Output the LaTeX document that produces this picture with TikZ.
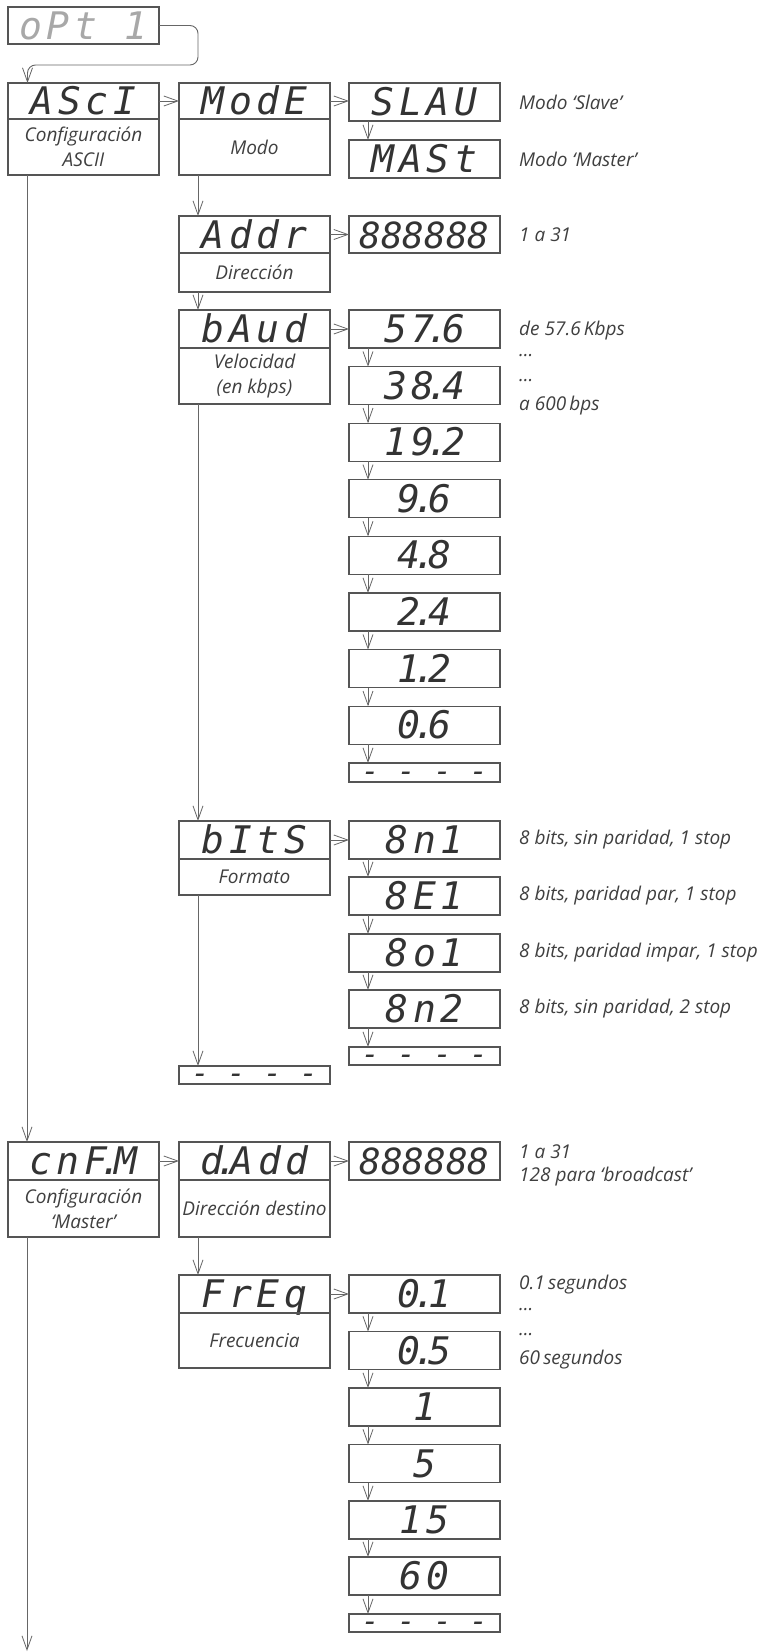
\documentclass[tikz,border=0pt]{standalone}
\usepackage{fontspec}
\setmainfont{Open Sans}
\newfontfamily\segf{DejaVu Sans Mono}
\newfontfamily\segw{DejaVu Sans Mono}[LetterSpace=12]
\newcommand\sdot{\kern-.2em.\kern-.2em}
\usetikzlibrary{arrows.meta}
\definecolor{boxc}{HTML}{555555}
\definecolor{linec}{HTML}{666666}
\definecolor{txtc}{HTML}{3F3F3F}
\definecolor{segc}{HTML}{333333}
\definecolor{segl}{HTML}{A8A8A8}
\tikzset{
  box/.style={draw=boxc, line width=1.2pt, minimum width=151pt, inner sep=0pt, outer sep=0pt},
  hdr/.style={box, minimum height=37pt, text height=27pt, text depth=0pt, text=segc,
    font=\segw\itshape\fontsize{38}{38}\selectfont},
  val/.style={hdr},
  num/.style={box, minimum height=37pt, text height=27pt, text depth=0pt, text=segc,
    font=\segf\itshape\fontsize{36}{36}\selectfont},
  dashbox/.style={box, minimum height=19pt},
  dashtxt/.style={anchor=base, inner sep=0pt, text=segc, font=\segf\itshape\fontsize{30}{30}\selectfont},
  low/.style={box, align=center, text=txtc, font=\itshape\fontsize{19}{25}\selectfont},
  lab/.style={anchor=west, inner sep=0pt, text=txtc, font=\itshape\fontsize{19}{24}\selectfont},
  arr/.style={draw=linec, line width=0.9pt, -{Straight Barb[length=14pt,width=10pt,line width=0.8pt]}},
}
\begin{document}
\begin{tikzpicture}[x=1pt,y=-1pt]
\useasboundingbox (0,0) rectangle (761,1652);
% ---- top ----
\node[hdr, text=segl, minimum height=37pt] (opt) at (83.5,25.5) {oPt 1};
\node[hdr, minimum height=36pt] (asci) at (83.5,101) {AScI};
\node[low, minimum height=56pt] (asciL) at (83.5,147) {Configuración\\ASCII};
\node[hdr, minimum height=36pt] (mode) at (254.5,101) {ModE};
\node[low, minimum height=56pt] (modeL) at (254.5,147) {Modo};
\node[val, minimum height=38pt] (slau) at (424.5,102) {SLAU};
\node[val, minimum height=38pt] (mast) at (424.5,159) {MASt};
\node[lab] (lslau) at (519,102) {Modo ‘Slave’};
\node[lab] (lmast) at (519,159) {Modo ‘Master’};
% ---- address ----
\node[hdr] (addr) at (254.5,234.5) {Addr};
\node[low, minimum height=39pt] (addrL) at (254.5,272.5) {Dirección};
\node[num] (addrv) at (424.5,234.5) {888888};
\node[lab] (laddr) at (519,235) {1 a 31};
% ---- baud ----
\node[hdr, minimum height=38pt] (baud) at (254.5,329) {bAud};
\node[low, minimum height=56pt] (baudL) at (254.5,376) {Velocidad\\(en kbps)};
\node[val, minimum height=38pt] (b1) at (424.5,329) {57\sdot6};
\node[val, minimum height=38pt] (b2) at (424.5,385.6) {38\sdot4};
\node[val, minimum height=38pt] (b3) at (424.5,442.2) {19\sdot2};
\node[val, minimum height=38pt] (b4) at (424.5,498.8) {9\sdot6};
\node[val, minimum height=38pt] (b5) at (424.5,555.4) {4\sdot8};
\node[val, minimum height=38pt] (b6) at (424.5,612) {2\sdot4};
\node[val, minimum height=38pt] (b7) at (424.5,668.6) {1\sdot2};
\node[val, minimum height=38pt] (b8) at (424.5,725.2) {0\sdot6};
\node[dashbox] (b9) at (424.5,772.5) {};
\node[dashtxt] (b9t) at (424.5,781) {- - - -};
\node[lab] (lb1) at (519,331) {de 57.6\,Kbps};
\node[lab] (lb2) at (519,356) {...};
\node[lab] (lb3) at (519,381) {...};
\node[lab] (lb4) at (519,406) {a 600\,bps};
% ---- bits ----
\node[hdr, minimum height=38pt] (bits) at (254.5,840) {bItS};
\node[low, minimum height=36pt] (bitsL) at (254.5,877) {Formato};
\node[val, minimum height=38pt] (f1) at (424.5,840) {8n1};
\node[val, minimum height=38pt] (f2) at (424.5,896) {8E1};
\node[val, minimum height=38pt] (f3) at (424.5,953) {8o1};
\node[val, minimum height=38pt] (f4) at (424.5,1009) {8n2};
\node[dashbox, minimum height=18pt] (f5) at (424.5,1056) {};
\node[dashtxt] (f5t) at (424.5,1064.5) {- - - -};
\node[dashbox, minimum height=18pt] (bitsd) at (254.5,1075) {};
\node[dashtxt] (bitsdt) at (254.5,1083.5) {- - - -};
\node[lab] (lf1) at (519,840) {8 bits, sin paridad, 1 stop};
\node[lab] (lf2) at (519,896) {8 bits, paridad par, 1 stop};
\node[lab] (lf3) at (519,953) {8 bits, paridad impar, 1 stop};
\node[lab] (lf4) at (519,1009) {8 bits, sin paridad, 2 stop};
% ---- master ----
\node[hdr, minimum height=38pt] (cnfm) at (83.5,1161) {cnF\sdot M};
\node[low, minimum height=57pt] (cnfmL) at (83.5,1208.5) {Configuración\\‘Master’};
\node[hdr, minimum height=38pt] (dadd) at (254.5,1161) {d\sdot Add};
\node[low, minimum height=57pt] (daddL) at (254.5,1208.5) {Dirección destino};
\node[num, minimum height=38pt] (daddv) at (424.5,1161) {888888};
\node[lab] (ld1) at (519,1152) {1 a 31};
\node[lab] (ld2) at (519,1177) {128 para ‘broadcast’};
% ---- frequency ----
\node[hdr, minimum height=38pt] (freq) at (254.5,1294) {FrEq};
\node[low, minimum height=55pt] (freqL) at (254.5,1340.5) {Frecuencia};
\node[val, minimum height=38pt] (q1) at (424.5,1294) {0\sdot1};
\node[val, minimum height=38pt] (q2) at (424.5,1350.5) {0\sdot5};
\node[val, minimum height=38pt] (q3) at (424.5,1407) {1};
\node[val, minimum height=38pt] (q4) at (424.5,1463.5) {5};
\node[val, minimum height=38pt] (q5) at (424.5,1520) {15};
\node[val, minimum height=38pt] (q6) at (424.5,1576) {60};
\node[dashbox, minimum height=18pt] (q7) at (424.5,1623) {};
\node[dashtxt] (q7t) at (424.5,1631.5) {- - - -};
\node[lab] (lq1) at (519,1285) {0.1\,segundos};
\node[lab] (lq2) at (519,1310) {...};
\node[lab] (lq3) at (519,1335) {...};
\node[lab] (lq4) at (519,1360) {60\,segundos};
% ---- connectors ----
\coordinate (c1) at (198,65);
\draw[arr, rounded corners=8pt] (opt.east) -| (c1) -| ([xshift=19.5pt]asci.north west);
\draw[arr] (asci.east) -- (mode.west);
\draw[arr] (mode.east) -- (mode.east -| slau.west);
\draw[arr] ([xshift=19pt]slau.south west) -- ([xshift=19pt]mast.north west);
\draw[arr] ([xshift=19pt]modeL.south west) -- ([xshift=19pt]addr.north west);
\draw[arr] (addr.east) -- (addrv.west);
\draw[arr] ([xshift=19pt]addrL.south west) -- ([xshift=19pt]baud.north west);
\draw[arr] (baud.east) -- (b1.west);
\foreach \a/\b in {b1/b2,b2/b3,b3/b4,b4/b5,b5/b6,b6/b7,b7/b8,b8/b9,f1/f2,f2/f3,f3/f4,f4/f5,q1/q2,q2/q3,q3/q4,q4/q5,q5/q6,q6/q7}
  \draw[arr] ([xshift=19pt]\a.south west) -- ([xshift=19pt]\b.north west);
\draw[arr] ([xshift=19pt]baudL.south west) -- ([xshift=19pt]bits.north west);
\draw[arr] (bits.east) -- (f1.west);
\draw[arr] ([xshift=19pt]bitsL.south west) -- ([xshift=19pt]bitsd.north west);
\draw[arr] ([xshift=19pt]asciL.south west) -- ([xshift=19pt]cnfm.north west);
\draw[arr] (cnfm.east) -- (dadd.west);
\draw[arr] (dadd.east) -- (daddv.west);
\draw[arr] ([xshift=19pt]daddL.south west) -- ([xshift=19pt]freq.north west);
\draw[arr] (freq.east) -- (q1.west);
\coordinate (endA) at (27,1651);
\draw[arr] ([xshift=19pt]cnfmL.south west) -- (endA);
\end{tikzpicture}
\end{document}
